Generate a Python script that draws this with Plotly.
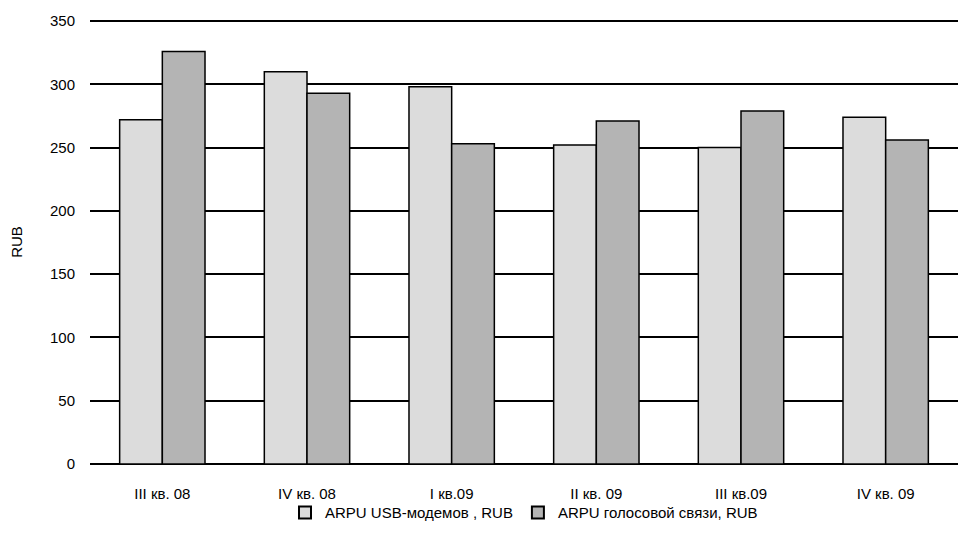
import plotly.graph_objects as go

categories = ["III кв. 08", "IV кв. 08", "I кв.09", "II кв. 09", "III кв.09", "IV кв. 09"]
usb_values = [272, 310, 298, 252, 250, 274]
voice_values = [326, 293, 253, 271, 279, 256]
series_names = ["ARPU USB-модемов , RUB", "ARPU голосовой связи, RUB"]
y_ticks = [0, 50, 100, 150, 200, 250, 300, 350]

fig = go.Figure()
fig.add_trace(go.Bar(x=categories, y=usb_values, name=series_names[0],
                     marker=dict(color="#DCDCDC", line=dict(color="black", width=1.5))))
fig.add_trace(go.Bar(x=categories, y=voice_values, name=series_names[1],
                     marker=dict(color="#B4B4B4", line=dict(color="black", width=1.5))))

fig.update_layout(
    width=962, height=542,
    margin=dict(l=82, r=12, t=12, b=86, autoexpand=False),
    paper_bgcolor="white", plot_bgcolor="white",
    font=dict(family="Liberation Sans, Arial, sans-serif", size=15, color="black"),
    barmode="group", bargap=0.41, bargroupgap=0,
    showlegend=True,
    legend=dict(orientation="h", x=0.5, xanchor="center", y=-0.11, yanchor="middle",
                font=dict(size=15), itemwidth=30, traceorder="normal",
                itemsizing="constant", bgcolor="rgba(0,0,0,0)", tracegroupgap=0),
    xaxis=dict(showgrid=False, showline=False, ticks="", ticklabelstandoff=19,
               tickfont=dict(size=15)),
    yaxis=dict(range=[0, 350.8], tickvals=y_ticks, showgrid=True, gridcolor="black",
               gridwidth=2, zeroline=True, zerolinecolor="black", zerolinewidth=2,
               showline=False, ticks="", ticklabelstandoff=14, tickfont=dict(size=15),
               title=dict(text="RUB", standoff=33, font=dict(size=15))),
)

fig.write_html("out.html")
